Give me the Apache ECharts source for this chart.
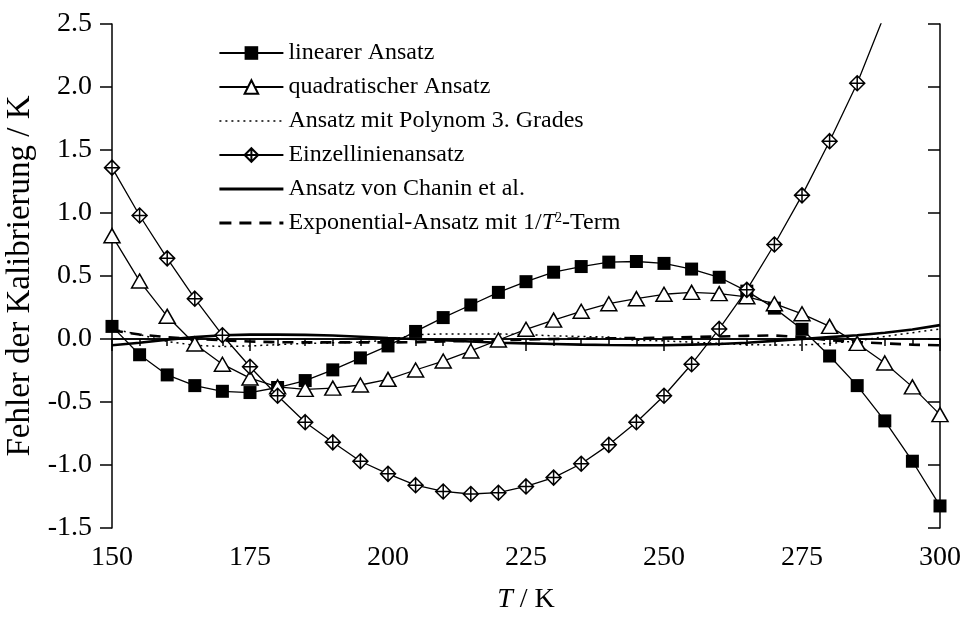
<!DOCTYPE html>
<html><head><meta charset="utf-8">
<script src="https://cdn.jsdelivr.net/npm/echarts@6/dist/echarts.min.js"></script>
<style>html,body{margin:0;padding:0;background:#fff}#c{width:966px;height:617px}</style>
</head><body><div id="c"></div>
<script>
const temperatures = [150,155,160,165,170,175,180,185,190,195,200,205,210,215,220,225,230,235,240,245,250,255,260,265,270,275,280,285,290,295,300];
const linearAnsatz = [0.10,-0.125,-0.285,-0.37,-0.415,-0.425,-0.385,-0.33,-0.245,-0.15,-0.055,0.06,0.17,0.27,0.37,0.455,0.53,0.575,0.61,0.615,0.60,0.555,0.49,0.38,0.245,0.077,-0.135,-0.37,-0.65,-0.97,-1.325];
const quadratischerAnsatz = [0.82,0.46,0.18,-0.04,-0.20,-0.31,-0.38,-0.40,-0.39,-0.365,-0.32,-0.246,-0.175,-0.095,-0.008,0.077,0.15,0.22,0.28,0.32,0.355,0.37,0.36,0.335,0.28,0.20,0.10,-0.035,-0.19,-0.38,-0.60];
const polynom3Ansatz = [0.08,0.035,-0.02,-0.05,-0.06,-0.055,-0.045,-0.035,-0.03,-0.025,-0.01,0.035,0.04,0.04,0.04,0.035,0.025,0.02,0.015,-0.01,-0.015,-0.025,-0.035,-0.045,-0.048,-0.048,-0.035,-0.015,0.02,0.05,0.08];
const einzellinienAnsatz = [1.36,0.98,0.64,0.32,0.03,-0.22,-0.45,-0.66,-0.82,-0.97,-1.07,-1.16,-1.21,-1.23,-1.22,-1.17,-1.10,-0.99,-0.84,-0.66,-0.45,-0.20,0.08,0.39,0.75,1.14,1.57,2.03,2.58,3.2,3.85];
const chaninAnsatz = [-0.05,-0.03,-0.005,0.015,0.03,0.035,0.035,0.033,0.028,0.018,0.008,0.0,-0.01,-0.02,-0.03,-0.035,-0.04,-0.045,-0.048,-0.05,-0.05,-0.045,-0.04,-0.03,-0.015,0.0,0.015,0.03,0.05,0.075,0.11];
const exponentialAnsatz = [0.07,0.035,0.015,0.0,-0.01,-0.02,-0.025,-0.027,-0.027,-0.027,-0.027,-0.025,-0.02,-0.015,-0.01,-0.005,0.0,0.003,0.005,0.008,0.01,0.015,0.02,0.025,0.028,0.015,-0.01,-0.025,-0.035,-0.045,-0.05];
const seriesNames = ['linearer Ansatz','quadratischer Ansatz','Ansatz mit Polynom 3. Grades','Einzellinienansatz','Ansatz von Chanin et al.','Exponential-Ansatz mit 1/T²-Term'];
const xTicks = {min:150, max:300, interval:25};
const yTicks = {min:-1.5, max:2.5, interval:0.5};

const pair = arr => temperatures.map((t,i)=>[t,arr[i]]);
const FONT = 'Liberation Serif';
const diamondCross = 'path://M10,0 L20,10 L10,20 L0,10 Z M10,0 L10,20 M0,10 L20,10';
const legendLineStyles = {};
legendLineStyles[seriesNames[2]] = {width:1.5, type:[2,4], color:'#000'};
legendLineStyles[seriesNames[4]] = {width:2.8, type:'solid', color:'#000'};
legendLineStyles[seriesNames[5]] = {width:2.8, type:[12,8], color:'#000'};

const chart = echarts.init(document.getElementById('c'), null, {renderer:'canvas'});
const axisLineStyle = {color:'#000', width:1.5};
chart.setOption({
  animation:false,
  backgroundColor:'#fff',
  textStyle:{fontFamily:FONT, color:'#000'},
  grid:{left:112, right:26, top:24, bottom:89, containLabel:false, outerBoundsMode:'none'},
  legend:{
    orient:'vertical', left:218, top:41, padding:0,
    itemWidth:64, itemHeight:17, itemGap:10,
    textStyle:{fontFamily:FONT, fontSize:24, color:'#000',
      rich:{i:{fontFamily:FONT, fontSize:24, fontStyle:'italic', color:'#000'},
            sup:{fontFamily:FONT, fontSize:14, color:'#000', verticalAlign:'top', padding:[0,0,10,0]},
            n:{fontFamily:FONT, fontSize:24, color:'#000'}}},
    formatter: function(name){
      if (name === seriesNames[5]) return '{n|Exponential-Ansatz mit 1/}{i|T}{sup|2}{n|-Term}';
      return name;
    },
    data: seriesNames.map(n => legendLineStyles[n] ? {name:n, itemStyle:{opacity:0}, lineStyle:legendLineStyles[n]} : {name:n})
  },
  xAxis:[{
    type:'value', min:xTicks.min, max:xTicks.max, interval:xTicks.interval,
    position:'bottom',
    name:'{i|T} / K', nameLocation:'middle', nameGap:58,
    nameTextStyle:{fontFamily:FONT, fontSize:28, color:'#000',
      rich:{i:{fontFamily:FONT, fontSize:28, fontStyle:'italic', color:'#000'}}},
    axisLine:{lineStyle:axisLineStyle},
    axisTick:{inside:false, length:12, lineStyle:{color:'#000', width:1.5}},
    minorTick:{show:true, splitNumber:5, length:7, lineStyle:{color:'#000', width:1.5}},
    splitLine:{show:false},
    axisLabel:{fontFamily:FONT, fontSize:28, color:'#000', margin:16}
  },{
    type:'value', min:xTicks.min, max:xTicks.max, interval:xTicks.interval,
    position:'top',
    axisLine:{lineStyle:axisLineStyle},
    axisTick:{inside:true, length:12, lineStyle:{color:'#000', width:1.5}},
    minorTick:{show:true, splitNumber:5, length:7, lineStyle:{color:'#000', width:1.5}},
    splitLine:{show:false},
    axisLabel:{show:false}
  }],
  yAxis:[{
    type:'value', min:yTicks.min, max:yTicks.max, interval:yTicks.interval,
    position:'left',
    name:'Fehler der Kalibrierung / K', nameLocation:'middle', nameGap:72, nameRotate:90,
    nameTextStyle:{fontFamily:FONT, fontSize:33, color:'#000'},
    axisLine:{lineStyle:axisLineStyle},
    axisTick:{inside:false, length:12, lineStyle:{color:'#000', width:1.5}},
    splitLine:{show:false},
    axisLabel:{fontFamily:FONT, fontSize:28, color:'#000', margin:20, formatter:v=>v.toFixed(1)}
  },{
    type:'value', min:yTicks.min, max:yTicks.max, interval:yTicks.interval,
    position:'right',
    axisLine:{lineStyle:axisLineStyle},
    axisTick:{inside:true, length:12, lineStyle:{color:'#000', width:1.5}},
    splitLine:{show:false},
    axisLabel:{show:false}
  }],
  series:[
    {name:seriesNames[0], type:'line', data:pair(linearAnsatz), symbol:'rect', symbolSize:13,
     itemStyle:{color:'#000', borderColor:'#000', borderWidth:0}, lineStyle:{color:'#000', width:1.3}, z:3},
    {name:seriesNames[1], type:'line', data:pair(quadratischerAnsatz), symbol:'triangle', symbolSize:[16,14],
     itemStyle:{color:'#fff', borderColor:'#000', borderWidth:1.5}, lineStyle:{color:'#000', width:1.3}, z:4},
    {name:seriesNames[2], type:'line', data:pair(polynom3Ansatz), symbol:'circle', showSymbol:false,
     itemStyle:{color:'#000', opacity:0}, lineStyle:{color:'#000', width:1.5, type:[2,4], opacity:1}, z:2},
    {name:seriesNames[3], type:'line', data:pair(einzellinienAnsatz), symbol:diamondCross, symbolSize:15,
     itemStyle:{color:'#fff', borderColor:'#000', borderWidth:1.5}, lineStyle:{color:'#000', width:1.3}, z:5, clip:true},
    {name:seriesNames[4], type:'line', data:pair(chaninAnsatz), symbol:'circle', showSymbol:false,
     itemStyle:{color:'#000', opacity:0}, lineStyle:{color:'#000', width:2.6, opacity:1}, z:2},
    {name:seriesNames[5], type:'line', data:pair(exponentialAnsatz), symbol:'circle', showSymbol:false,
     itemStyle:{color:'#000', opacity:0}, lineStyle:{color:'#000', width:2.6, type:[11,8], opacity:1}, z:2}
  ]
});
</script></body></html>
